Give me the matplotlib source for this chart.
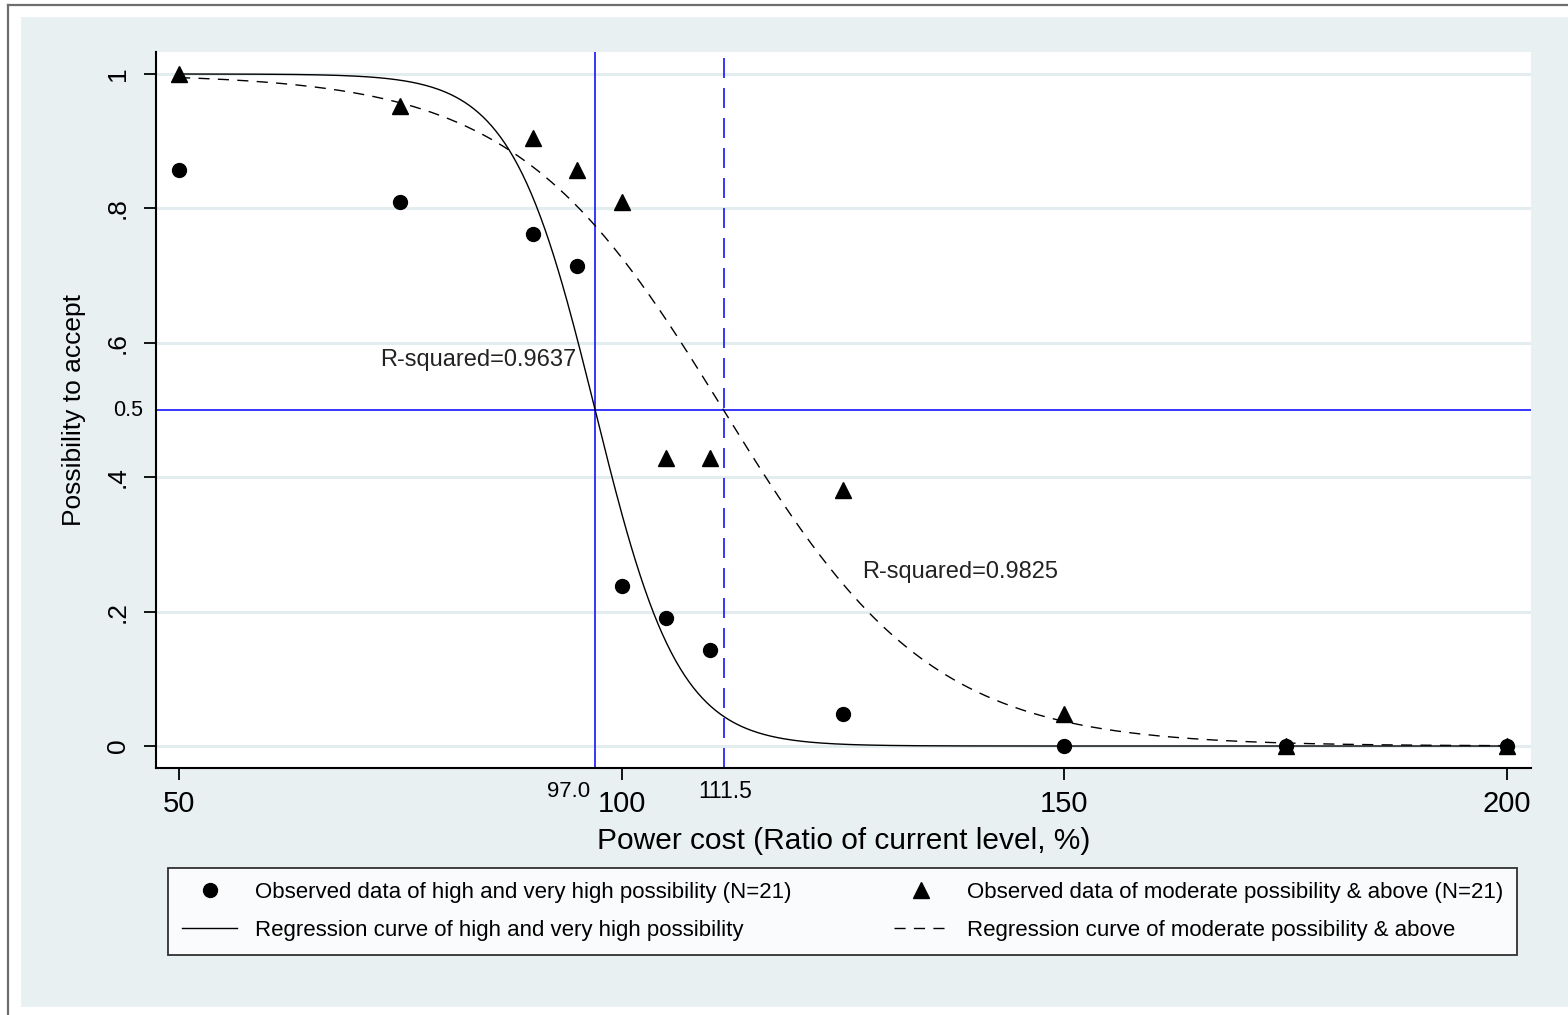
import numpy as np
import matplotlib
matplotlib.use("Agg")
import matplotlib.pyplot as plt
from matplotlib.patches import Rectangle
from matplotlib.lines import Line2D

plt.rcParams['font.family'] = ['Liberation Sans', 'DejaVu Sans']

# observed data (share of respondents, N=21)
cost = [50, 75, 90, 95, 100, 105, 110, 125, 150, 175, 200]
high = [0.857, 0.810, 0.762, 0.714, 0.238, 0.190, 0.143, 0.048, 0.0, 0.0, 0.0]
moderate = [1.0, 0.952, 0.905, 0.857, 0.810, 0.429, 0.429, 0.381, 0.048, 0.0, 0.0]

# logistic regression curves: midpoint (50% acceptance) and slope
high_mid, high_slope = 97.0, 0.212
mod_mid, mod_slope = 111.5, 0.085
r2_high = "R-squared=0.9637"
r2_mod = "R-squared=0.9825"

bg = '#e9f0f2'
blue = '#1414ff'

fig = plt.figure(figsize=(15.68, 10.15), dpi=100, facecolor='white')
fig.patches.append(Rectangle((21 / 1568, 1 - 1007 / 1015), 1547 / 1568, 990 / 1015,
                             transform=fig.transFigure, facecolor=bg, edgecolor='none', zorder=-2))
fig.lines.append(Line2D([8 / 1568, 1], [1 - 5 / 1015, 1 - 5 / 1015], transform=fig.transFigure,
                        color='#6e6e6e', lw=1.6))
fig.lines.append(Line2D([8 / 1568, 8 / 1568], [1 - 5 / 1015, 0], transform=fig.transFigure,
                        color='#6e6e6e', lw=1.6))

ax = fig.add_axes([156 / 1568, 1 - 768 / 1015, 1375 / 1568, 716 / 1015])
ax.set_facecolor('white')
ax.set_xlim(47.4, 202.7)
ax.set_ylim(-0.0327, 1.0327)

xs = np.linspace(50, 200, 600)
y_high = 1 / (1 + np.exp(high_slope * (xs - high_mid)))
y_mod = 1 / (1 + np.exp(mod_slope * (xs - mod_mid)))

ax.axhline(0.5, color=blue, lw=1.2, zorder=1)
ax.axvline(high_mid, color=blue, lw=1.2, zorder=1)
ax.axvline(mod_mid, color=blue, lw=1.2, dashes=(12, 6), zorder=1)

h1, = ax.plot(cost, high, 'o', color='black', ms=10, zorder=4,
              label='Observed data of high and very high possibility (N=21)')
h2, = ax.plot(xs, y_high, color='black', lw=1.0, zorder=3,
              label='Regression curve of high and very high possibility')
h3, = ax.plot(cost, moderate, '^', color='black', ms=11, zorder=5,
              label='Observed data of moderate possibility & above (N=21)')
h4, = ax.plot(xs, y_mod, color='black', lw=1.0, dashes=(8, 6), zorder=3,
              label='Regression curve of moderate possibility & above')

ax.text(72.7, 0.574, r2_high, fontsize=17, va='center', ha='left', color='#222222')
ax.text(127.1, 0.259, r2_mod, fontsize=17, va='center', ha='left', color='#222222')

# axes styling
for s in ['top', 'right']:
    ax.spines[s].set_visible(False)
for s in ['left', 'bottom']:
    ax.spines[s].set_linewidth(1.5)

ax.set_xticks([50, 100, 150, 200])
ax.set_xticklabels(['50', '100', '150', '200'], fontsize=21)
ax.tick_params(axis='x', length=8.5, width=1.3, pad=7)

ax.set_yticks([0, 0.2, 0.4, 0.6, 0.8, 1.0])
ax.set_yticklabels(['0', '.2', '.4', '.6', '.8', '1'], fontsize=19, rotation=90, va='center')
ax.tick_params(axis='y', length=9, width=1.3, pad=10)
ax.yaxis.grid(True, color='#e3edef', lw=2.2)
ax.set_axisbelow(True)

ax.annotate('0.5', xy=(0, 0.5), xycoords=('axes fraction', 'data'), xytext=(-9.5, 0),
            textcoords='offset points', ha='right', va='center', fontsize=15.5)
ax.annotate('97.0', xy=(high_mid, 0), xycoords=('data', 'axes fraction'), xytext=(-3.5, -17),
            textcoords='offset points', ha='right', va='center', fontsize=16)
ax.annotate('111.5', xy=(mod_mid, 0), xycoords=('data', 'axes fraction'), xytext=(1.5, -17),
            textcoords='offset points', ha='center', va='center', fontsize=16.5)

ax.set_xlabel('Power cost (Ratio of current level, %)', fontsize=21.5, labelpad=7)
ax.set_ylabel('Possibility to accept', fontsize=19, labelpad=14)

leg = fig.legend(handles=[h1, h2, h3, h4], loc='center', ncol=2, mode='expand',
                 bbox_to_anchor=(168 / 1568, 1 - 957 / 1015, 1349 / 1568, 91 / 1015),
                 fontsize=16, frameon=True, fancybox=False, handlelength=2.5,
                 handletextpad=0.8, labelspacing=0.75, borderpad=0.62, borderaxespad=0)
leg.get_frame().set_edgecolor('black')
leg.get_frame().set_linewidth(1.3)

fig.savefig('out.png', dpi=100, facecolor='white')
